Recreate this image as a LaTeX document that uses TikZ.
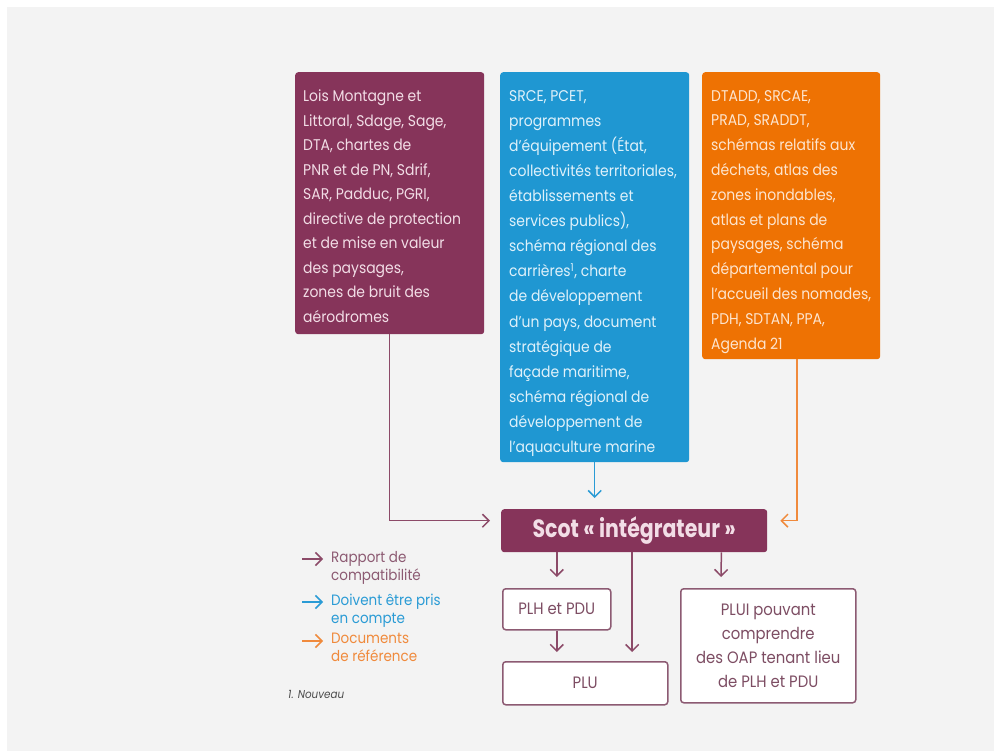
\documentclass[tikz,border=0pt]{standalone}
\usepackage{fontspec}
\setmainfont{Poppins}[FakeStretch=0.9]
\newfontfamily\scotfont{Poppins}[FakeStretch=0.82]
\usetikzlibrary{arrows.meta,calc}
\definecolor{bg}{HTML}{F3F3F3}
\definecolor{purp}{HTML}{86345A}
\definecolor{blu}{HTML}{1F97D2}
\definecolor{ora}{HTML}{EE7203}
\definecolor{parrc}{HTML}{8C4A68}
\definecolor{barrc}{HTML}{2A9BD5}
\definecolor{oarrc}{HTML}{F08A3C}
\definecolor{bbord}{HTML}{8C5A72}
\definecolor{btext}{HTML}{7D4D63}
\definecolor{ptext}{HTML}{F2DDE6}
\definecolor{bltext}{HTML}{DFF1FA}
\definecolor{otext}{HTML}{FDE5CF}
\tikzset{
  conn/.style={line width=1.5pt, -{Straight Barb[length=6.5pt,width=13pt]}},
  parr/.style={conn, draw=parrc},
  barr/.style={conn, draw=barrc},
  oarr/.style={conn, draw=oarrc},
  colbox/.style={rounded corners=3pt, anchor=north west, inner sep=0pt},
  boxtext/.style={anchor=north west, inner sep=0pt, align=left},
  wbox/.style={draw=bbord, fill=white, line width=1.5pt, rounded corners=3pt, anchor=north west, inner sep=0pt, text=btext, align=center, font=\fontsize{16.5}{24}\selectfont},
  legtext/.style={anchor=north west, inner sep=0pt, align=left, font=\fontsize{15}{18}\selectfont},
}
\begin{document}
\begin{tikzpicture}[x=1pt,y=-1pt]
\useasboundingbox (0,0) rectangle (994,751);
\fill[bg] (7,7) rectangle (994,751);

% top boxes
\node[colbox, fill=purp, minimum width=189, minimum height=262] (P) at (295,72) {};
\node[colbox, fill=blu, minimum width=189, minimum height=390] (B) at (500,72) {};
\node[colbox, fill=ora, minimum width=178, minimum height=287] (O) at (702,72) {};

\node[boxtext, text=ptext, font=\fontsize{15.5}{24.5}\selectfont] (Pt) at ($(P.north west)+(8,18)$) {Lois Montagne et\\Littoral, Sdage, Sage,\\DTA, chartes de\\PNR et de PN, Sdrif,\\SAR, Padduc, PGRI,\\directive de protection\\et de mise en valeur\\des paysages,\\zones de bruit des\\aérodromes};
\node[boxtext, text=bltext, font=\fontsize{15.5}{25.1}\selectfont] (Bt) at ($(B.north west)+(9,18)$) {SRCE, PCET,\\programmes\\d’équipement (État,\\collectivités territoriales,\\établissements et\\services publics),\\schéma régional des\\carrières\textsuperscript{1}, charte\\de développement\\d’un pays, document\\stratégique de\\façade maritime,\\schéma régional de\\développement de\\l’aquaculture marine};
\node[boxtext, text=otext, font=\fontsize{15.5}{24.8}\selectfont] (Ot) at ($(O.north west)+(9,18)$) {DTADD, SRCAE,\\PRAD, SRADDT,\\schémas relatifs aux\\déchets, atlas des\\zones inondables,\\atlas et plans de\\paysages, schéma\\départemental pour\\l’accueil des nomades,\\PDH, SDTAN, PPA,\\Agenda 21};

% Scot
\node[colbox, fill=purp, minimum width=266, minimum height=43, text=ptext, font=\scotfont\bfseries\fontsize{25}{28}\selectfont] (S) at (501,509) {Scot « intégrateur »};

% bottom boxes
\node[wbox, minimum width=108, minimum height=41] (PLH) at (502,588) {PLH et PDU};
\node[wbox, minimum width=165, minimum height=43] (PLU) at (502,661) {PLU};
\node[wbox, minimum width=175, minimum height=114] (PLUI) at (680,588) {PLUI pouvant\\comprendre\\des OAP tenant lieu\\de PLH et PDU};

% connectors
\draw[parr] (P.south) |- ($(S.west)+(-11,-10)$);
\draw[barr] (B.south) -- ($(S.north -| B.south)+(0,-11)$);
\draw[oarr] ($(O.south)+(6,0)$) |- ($(S.east)+(13,-10)$);
\draw[parr] (S.south -| PLH.north) -- ($(PLH.north)+(0,-11)$);
\draw[parr] ($(S.south)+(-2,0)$) -- ($(PLU.north -| S.south)+(-2,-9)$);
\draw[parr] ($(S.south east)+(-46,0)$) -- ($(PLUI.north west)+(41,-11)$);
\draw[parr] (PLH.south) -- ($(PLU.north -| PLH.south)+(0,-9)$);

% legend
\coordinate (l1a) at (302,559); \coordinate (l1b) at (323,559);
\coordinate (l2a) at (302,602); \coordinate (l2b) at (323,602);
\coordinate (l3a) at (302,641); \coordinate (l3b) at (323,641);
\draw[parr] (l1a) -- (l1b);
\draw[barr] (l2a) -- (l2b);
\draw[oarr] (l3a) -- (l3b);
\node[legtext, text=bbord] (L1) at (331,551) {Rapport de\\compatibilité};
\node[legtext, text=barrc] (L2) at (331,594) {Doivent être pris\\en compte};
\node[legtext, text=oarrc] (L3) at (331,633) {Documents\\de référence};
\node[anchor=west, inner sep=0pt, text=black!70, font=\itshape\fontsize{11.5}{14}\selectfont] (N) at (288,694) {1. Nouveau};
\end{tikzpicture}
\end{document}
